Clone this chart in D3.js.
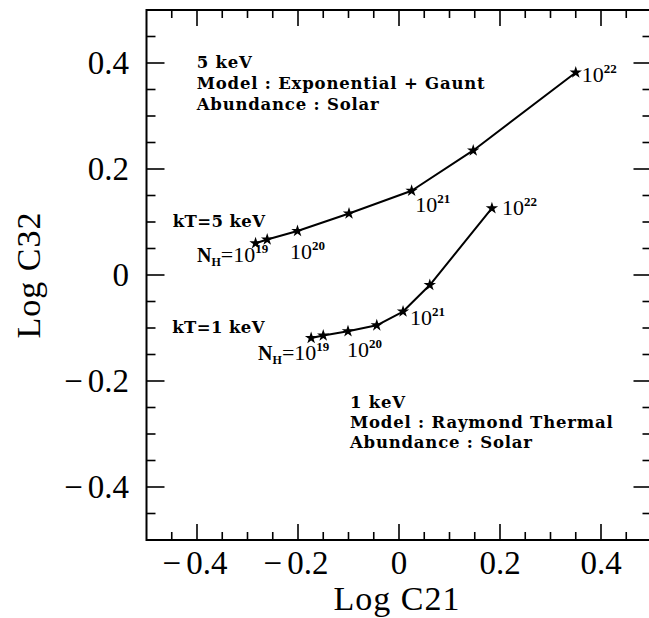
<!DOCTYPE html>
<html>
<head>
<meta charset="utf-8">
<script src="https://cdn.jsdelivr.net/npm/d3@7"></script>
<style>
  body { margin: 0; background: #fff; }
  text { fill: #000; }
</style>
</head>
<body>
<svg id="chart" width="649" height="618"></svg>
<script>
// kT = 5 keV track (Exponential + Gaunt), N_H from 1e19 to 1e22
const c21_5keV = [-0.284, -0.261, -0.201, -0.099, 0.025, 0.147, 0.350];
const c32_5keV = [0.060, 0.067, 0.083, 0.116, 0.159, 0.235, 0.382];
// kT = 1 keV track (Raymond Thermal)
const c21_1keV = [-0.174, -0.150, -0.101, -0.044, 0.008, 0.061, 0.184];
const c32_1keV = [-0.119, -0.114, -0.106, -0.095, -0.069, -0.019, 0.126];

const majorTicks = [-0.4, -0.2, 0, 0.2, 0.4];
const tickLabels = ["\u22120.4", "\u22120.2", "0", "0.2", "0.4"];

const svg = d3.select("#chart");

const x = d3.scaleLinear().domain([-0.5, 0.5]).range([146.5, 651.5]);
const y = d3.scaleLinear().domain([-0.5, 0.5]).range([540, 10]);

const minorTicks = d3.range(-0.45, 0.5, 0.05).map(v => +v.toFixed(2));

// frame
svg.append("rect")
   .attr("x", x(-0.5)).attr("y", y(0.5))
   .attr("width", x(0.5) - x(-0.5))
   .attr("height", y(-0.5) - y(0.5))
   .attr("fill", "none")
   .attr("stroke", "#000")
   .attr("stroke-width", 2);

// ticks, all pointing inward
const isMajor = v => majorTicks.some(m => Math.abs(m - v) < 1e-6);
const tk = svg.append("g").attr("stroke", "#000").attr("stroke-width", 1.6);
minorTicks.forEach(v => {
  const lx = isMajor(v) ? 16 : 8;
  const ly = isMajor(v) ? 18 : 9;
  tk.append("line").attr("x1", x(v)).attr("x2", x(v)).attr("y1", y(-0.5)).attr("y2", y(-0.5) - lx);
  tk.append("line").attr("x1", x(v)).attr("x2", x(v)).attr("y1", y(0.5)).attr("y2", y(0.5) + lx);
  tk.append("line").attr("y1", y(v)).attr("y2", y(v)).attr("x1", x(-0.5)).attr("x2", x(-0.5) + ly);
  tk.append("line").attr("y1", y(v)).attr("y2", y(v)).attr("x1", x(0.5)).attr("x2", x(0.5) - ly);
});

// tick labels
const tickFont = "'Liberation Serif', 'DejaVu Serif', serif";
function writeTick(sel, label) {
  if (label[0] === "\u2212") {
    sel.append("tspan").text("\u2212");
    sel.append("tspan").attr("dx", 5).text(label.slice(1));
  } else {
    sel.text(label);
  }
}
majorTicks.forEach((v, i) => {
  const t = svg.append("text")
     .attr("x", x(v) - (v < 0 ? 2 : 0))
     .attr("y", 574)
     .attr("text-anchor", "middle")
     .style("font-family", tickFont)
     .style("font-size", "33px");
  writeTick(t, tickLabels[i]);

  const ty = svg.append("text")
     .attr("x", 129)
     .attr("y", y(v) + 11)
     .attr("text-anchor", "end")
     .style("font-family", tickFont)
     .style("font-size", "33px");
  writeTick(ty, tickLabels[i]);
});

// axis titles
svg.append("text")
   .attr("x", 397).attr("y", 610)
   .attr("text-anchor", "middle")
   .style("font-family", tickFont)
   .style("font-size", "34px")
   .style("letter-spacing", "1px")
   .text("Log C21");

svg.append("text")
   .attr("transform", "translate(40," + 275 + ") rotate(-90)")
   .attr("text-anchor", "middle")
   .style("font-family", tickFont)
   .style("font-size", "34px")
   .style("letter-spacing", "1px")
   .text("Log C32");

// tracks
const line = d3.line().x(d => x(d[0])).y(d => y(d[1]));
const star = d3.symbol().type(d3.symbolStar).size(48);

[[c21_5keV, c32_5keV], [c21_1keV, c32_1keV]].forEach(([xs, ys]) => {
  const pts = xs.map((v, i) => [v, ys[i]]);
  svg.append("path")
     .datum(pts)
     .attr("fill", "none")
     .attr("stroke", "#000")
     .attr("stroke-width", 2)
     .attr("stroke-linejoin", "round")
     .attr("d", line);
  svg.selectAll(null)
     .data(pts)
     .enter().append("path")
     .attr("transform", d => "translate(" + x(d[0]) + "," + y(d[1]) + ")")
     .attr("d", star)
     .attr("fill", "#000");
});

// model notes
const noteFont = "'DejaVu Serif', serif";
function note(lines, px, py, step) {
  const t = svg.append("text")
     .style("font-family", noteFont)
     .style("font-weight", "bold")
     .style("font-size", "16.5px")
     .style("letter-spacing", "0.8px");
  lines.forEach((s, i) => {
    t.append("tspan").attr("x", x(px)).attr("y", y(py) + i * step).text(s);
  });
}
note(["5 keV", "Model : Exponential + Gaunt", "Abundance : Solar"], -0.4006, 0.3906, 21);
note(["1 keV", "Model : Raymond Thermal", "Abundance : Solar"], -0.097, -0.251, 20);

function kT(label, px, py) {
  svg.append("text")
     .attr("x", x(px)).attr("y", y(py))
     .style("font-family", noteFont)
     .style("font-weight", "bold")
     .style("font-size", "16.5px")
     .style("letter-spacing", "0.4px")
     .text(label);
}
kT("kT=5 keV", -0.448, 0.0906);
kT("kT=1 keV", -0.449, -0.109);

// column density labels
function power(exp, px, py, withNH) {
  const t = svg.append("text")
     .attr("x", x(px)).attr("y", y(py))
     .style("font-family", tickFont)
     .style("font-size", "22px");
  if (withNH) {
    t.append("tspan").style("font-weight", "bold").style("font-size", "20px").text("N");
    t.append("tspan").attr("dy", 4).style("font-weight", "bold").style("font-size", "12px").text("H");
    t.append("tspan").attr("dy", -4).text("=");
  }
  t.append("tspan").text("10");
  t.append("tspan").attr("dy", -9)
   .style("font-size", "13px").style("font-weight", "bold")
   .text(exp);
}
power("19", -0.400, 0.0245, true);
power("20", -0.216, 0.030, false);
power("21", 0.032, 0.119, false);
power("22", 0.362, 0.364, false);
power("19", -0.279, -0.160, true);
power("20", -0.103, -0.155, false);
power("21", 0.022, -0.094, false);
power("22", 0.204, 0.113, false);
</script>
</body>
</html>
